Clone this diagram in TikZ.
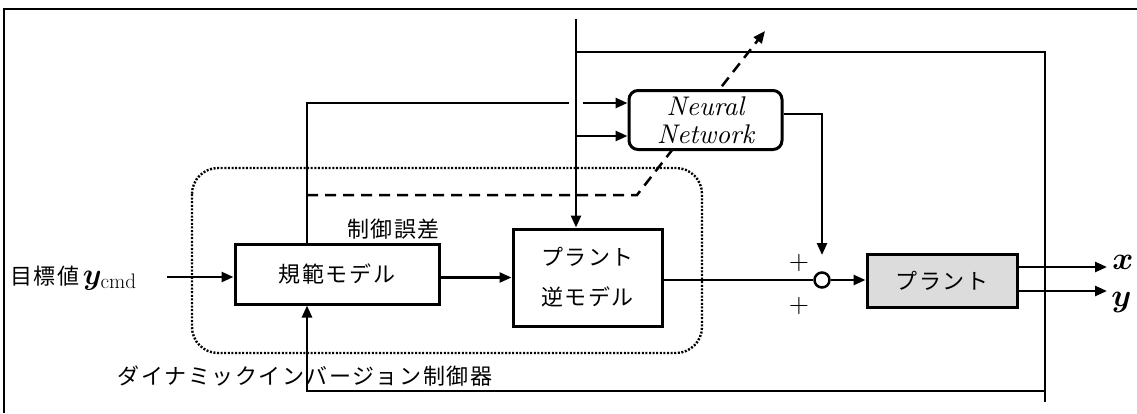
\RequirePackage{fix-cm}
\documentclass[tikz,border=0pt]{standalone}
\usepackage{fontspec}
\usepackage{bm}
\newfontfamily\jp{Noto Sans CJK JP}[LetterSpace=7]
\newfontfamily\nnit{lmroman10-italic.otf}
\newfontfamily\lmten{lmroman10-regular.otf}
\usetikzlibrary{arrows.meta}
\begin{document}
\begin{tikzpicture}[x=1pt,y=-1pt,
  line width=2.5pt,
  >={Triangle[length=12pt,width=10pt]},
  jpfont/.style={font=\jp\fontsize{22}{40}\selectfont},
  blk/.style={draw, line width=3pt, inner sep=0pt, align=center, jpfont},
  dashline/.style={dash pattern=on 11pt off 7pt},
  dotline/.style={dash pattern=on 2pt off 1.6pt, line width=2.4pt},
  plus/.style={font=\lmten\fontsize{26}{28}\selectfont, inner sep=0pt},
  outlbl/.style={anchor=west, inner sep=0pt, font=\fontsize{32}{34}\selectfont}
]
\useasboundingbox (0,0) rectangle (1137,413);
% outer frame
\draw (4,413) -- (4,9) -- (1137,9);

% dotted controller region
\draw[dotline, rounded corners=26pt] (192,168) rectangle (702,353);

% coordinates
\coordinate (in) at (167,277);
\coordinate (rt) at (307,103);
\coordinate (gapl) at (569,103);
\coordinate (gapr) at (583,103);
\coordinate (top) at (576,19);
\coordinate (tj) at (576,52);
\coordinate (tr) at (1045,52);
\coordinate (br) at (1045,402);
\coordinate (bc) at (1045,391);
\coordinate (fb) at (307,391);
\coordinate (b2) at (576,136);
\coordinate (dl) at (307,195);
\coordinate (dk) at (637,195);
\coordinate (dtip) at (765,31);
\coordinate (nno) at (782,114);
\coordinate (sumin) at (822,255);
\coordinate (xo) at (1107,267);
\coordinate (yo) at (1107,291);

% dashed learning line (behind NN box)
\draw[dashline, ->] (dl) -- (dk) -- (dtip);

% nodes
\node[blk, minimum width=204pt, minimum height=60pt] (ref) at (337,274) {規範モデル};
\node[blk, minimum width=149pt, minimum height=97pt] (inv) at (587.5,277.5) {プラント\\逆モデル};
\node[draw, line width=3pt, rounded corners=9pt, fill=white, minimum width=153pt, minimum height=59pt,
      inner sep=0pt, align=center, font=\nnit\fontsize{27}{28}\selectfont] (nn) at (705.5,120) {Neural\\Network};
\node[circle, draw, line width=2.5pt, minimum size=15pt, inner sep=0pt] (sum) at (822,280) {};
\node[blk, fill={rgb,255:red,220;green,220;blue,220}, minimum width=150pt, minimum height=53pt] (plant) at (942,280.5) {プラント};

% labels
\node[anchor=west, inner sep=0pt, jpfont] (tgt) at (9,278) {目標値\,{\fontsize{30}{30}\selectfont$\bm{y}_{\mathrm{cmd}}$}};
\node[anchor=east, inner sep=0pt, jpfont] (err) at (441,229) {制御誤差};
\node[inner sep=0pt, jpfont] (dic) at (305,376) {ダイナミックインバージョン制御器};
\node[plus] (p1) at (799,263) {+};
\node[plus] (p2) at (799,306) {+};
\node[outlbl] (xl) at (1111,262) {$\bm{x}$};
\node[outlbl] (yl) at (1110,302) {$\bm{y}$};

% connectors
\draw[->] (in) -- (in -| ref.west);
\draw[->] (ref.east |- inv.west) -- (inv.west);
\draw (inv.east |- sum) -- (sum.west);
\draw[->] (sum.east) -- (plant.west |- sum);
\draw[->] (plant.east |- xo) -- (xo);
\draw[->] (plant.east |- yo) -- (yo);
\draw[->] (nn.east |- nno) -| (sumin);
\draw (rt |- ref.north) -- (rt) -- (gapl);
\draw[->] (gapr) -- (nn.west |- rt);
\draw[->] (b2) -- (nn.west |- b2);
\draw[->] (top) -- (inv.north -| top);
\draw (tj) -- (tr) -- (br);
\draw[->] (bc) -- (fb) -- (fb |- ref.south);
\end{tikzpicture}
\end{document}
